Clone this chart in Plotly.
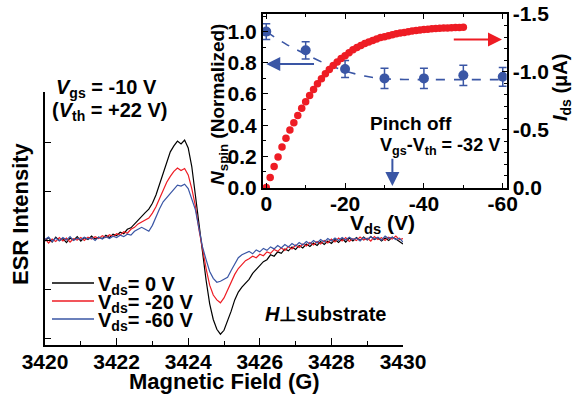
import plotly.graph_objects as go

W, H = 574, 403

# ---------------- main ESR spectra ----------------
field = [round(3420 + 0.1 * i, 1) for i in range(101)]

esr_0V = [
    -0.02, 0.05, -0.04, 0.06, -0.01, 0.03, -0.05, 0.04, 0.00, 0.07,
    -0.02, 0.05, 0.01, 0.08, 0.02, 0.06, 0.03, 0.10, 0.05, 0.12,
    0.09, 0.16, 0.13, 0.22, 0.25, 0.33, 0.42, 0.50, 0.56, 0.63,
    0.75, 0.92, 1.15, 1.38, 1.62, 1.80, 1.92, 2.02, 1.96, 2.04,
    1.88, 1.50, 0.92, 0.30, -0.28, -0.82, -1.30, -1.62, -1.82, -1.92,
    -1.84, -1.66, -1.45, -1.22, -1.06, -0.96, -0.88, -0.80, -0.68, -0.60,
    -0.52, -0.44, -0.40, -0.30, -0.33, -0.24, -0.27, -0.18, -0.22, -0.14,
    -0.19, -0.11, -0.16, -0.08, -0.13, -0.06, -0.11, -0.03, -0.09, -0.02,
    -0.07, 0.01, -0.05, 0.03, -0.04, 0.04, -0.02, 0.05, -0.01, 0.06,
    0.00, 0.07, 0.01, 0.05, -0.02, 0.04, -0.01, 0.06, 0.02, -0.04,
    -0.08,
]
esr_20V = [
    0.03, -0.06, 0.02, -0.03, 0.05, -0.02, 0.04, -0.04, 0.03, 0.00,
    0.05, -0.01, 0.06, 0.02, 0.07, 0.03, 0.09, 0.05, 0.11, 0.07,
    0.13, 0.10, 0.17, 0.14, 0.22, 0.26, 0.33, 0.37, 0.42, 0.45,
    0.55, 0.68, 0.85, 1.02, 1.18, 1.30, 1.40, 1.47, 1.42, 1.46,
    1.33, 1.05, 0.70, 0.22, -0.20, -0.58, -0.92, -1.12, -1.22, -1.28,
    -1.18, -1.02, -0.86, -0.70, -0.58, -0.50, -0.42, -0.38, -0.33, -0.36,
    -0.29, -0.32, -0.24, -0.27, -0.19, -0.23, -0.16, -0.21, -0.13, -0.18,
    -0.10, -0.15, -0.08, -0.12, -0.05, -0.10, -0.03, -0.08, -0.01, -0.06,
    0.02, -0.04, 0.04, -0.02, 0.05, -0.03, 0.03, -0.01, 0.06, 0.00,
    0.04, -0.02, 0.07, 0.01, 0.05, -0.01, 0.06, 0.02, 0.08, 0.01,
    0.03,
]
esr_60V = [
    0.01, 0.06, -0.03, 0.04, -0.02, 0.05, 0.00, 0.07, -0.01, 0.04,
    0.01, 0.06, 0.02, 0.05, -0.01, 0.06, 0.02, 0.07, 0.03, 0.08,
    0.05, 0.10, 0.07, 0.12, 0.10, 0.18, 0.22, 0.26, 0.22, 0.18,
    0.30, 0.48, 0.64, 0.78, 0.86, 0.94, 1.04, 1.12, 1.10, 1.14,
    1.05, 0.85, 0.62, 0.24, -0.14, -0.40, -0.64, -0.78, -0.86, -0.84,
    -0.80, -0.76, -0.62, -0.48, -0.36, -0.30, -0.27, -0.23, -0.28, -0.20,
    -0.24, -0.17, -0.21, -0.14, -0.18, -0.11, -0.16, -0.09, -0.14, -0.07,
    -0.12, -0.05, -0.10, -0.03, -0.08, -0.01, -0.06, 0.01, -0.04, 0.03,
    -0.02, 0.04, -0.01, 0.05, 0.00, 0.06, 0.01, 0.04, -0.02, 0.05,
    0.01, 0.07, 0.02, 0.06, 0.00, 0.08, 0.03, 0.06, 0.01, 0.04,
    -0.04,
]
field_ticks = [3420, 3422, 3424, 3426, 3428, 3430]
field_ticktext = ["3420", "3422", "3424", "3426", "3428", "3430"]

# ---------------- inset data ----------------
ids_vds = [-float(v) for v in range(0, 51)]
ids_uA = [
    0.0, -0.086, -0.181, -0.264, -0.350, -0.425, -0.497, -0.560, -0.623, -0.686,
    -0.741, -0.796, -0.847, -0.897, -0.940, -0.983, -1.020, -1.054, -1.086, -1.115,
    -1.140, -1.166, -1.190, -1.210, -1.227, -1.244, -1.258, -1.272, -1.284, -1.296,
    -1.304, -1.313, -1.321, -1.330, -1.336, -1.341, -1.347, -1.352, -1.357, -1.362,
    -1.366, -1.369, -1.372, -1.374, -1.376, -1.378, -1.380, -1.382, -1.383, -1.384,
    -1.385,
]
nspin_vds = [0, -10, -20, -30, -40, -50, -60]
nspin = [1.00, 0.88, 0.76, 0.70, 0.70, 0.72, 0.71]
nspin_err = [0.05, 0.055, 0.055, 0.065, 0.065, 0.065, 0.06]
fit_vds = [0, -5, -10, -15, -20, -25, -30, -35, -40, -50, -60]
fit_nspin = [1.0, 0.92, 0.855, 0.795, 0.748, 0.715, 0.698, 0.693, 0.692, 0.692, 0.692]
inset_xticks = [0, -20, -40, -60]
inset_xticktext = ["0", "-20", "-40", "-60"]
nspin_ticks = [0, 0.2, 0.4, 0.6, 0.8, 1.0]
nspin_ticktext = ["0.0", "0.2", "0.4", "0.6", "0.8", "1.0"]
ids_ticks = [0, -0.5, -1.0, -1.5]
ids_ticktext = ["0.0", "-0.5", "-1.0", "-1.5"]

BLACK = "#000000"
RED = "#ee1c24"
BLUE = "#3a56a5"
FONT = "Liberation Sans, Arial, sans-serif"

fig = go.Figure()
fig.add_trace(go.Scatter(x=field, y=esr_0V, mode="lines", line=dict(color=BLACK, width=1.2), xaxis="x", yaxis="y"))
fig.add_trace(go.Scatter(x=field, y=esr_20V, mode="lines", line=dict(color=RED, width=1.2), xaxis="x", yaxis="y"))
fig.add_trace(go.Scatter(x=field, y=esr_60V, mode="lines", line=dict(color=BLUE, width=1.2), xaxis="x", yaxis="y"))

fig.add_trace(go.Scatter(x=ids_vds, y=ids_uA, mode="markers", marker=dict(color=RED, size=7.5),
                         xaxis="x2", yaxis="y3"))
fig.add_trace(go.Scatter(x=fit_vds, y=fit_nspin, mode="lines", line=dict(color=BLUE, width=1.6, dash="dash", shape="spline"),
                         xaxis="x2", yaxis="y2"))
fig.add_trace(go.Scatter(x=nspin_vds, y=nspin, mode="markers", marker=dict(color=BLUE, size=10),
                         error_y=dict(type="data", array=nspin_err, color=BLUE, thickness=1.5, width=4),
                         xaxis="x2", yaxis="y2"))


def px(x, y):
    return x / W, 1 - y / H


def bold_font(size):
    return dict(family=FONT, size=size, color="black", weight="bold")


axis_common = dict(showline=True, linecolor="black", linewidth=1.6, showgrid=False, zeroline=False,
                   ticks="inside", tickcolor="black", tickwidth=1.4, automargin=False)

fig.update_layout(
    width=W, height=H, autosize=False,
    margin=dict(l=0, r=0, t=0, b=0, pad=0, autoexpand=False),
    paper_bgcolor="white", plot_bgcolor="white",
    showlegend=False,
    xaxis=dict(**axis_common, domain=[45 / W, 403 / W], range=[3420, 3430], anchor="y",
               tickmode="array", tickvals=field_ticks, ticktext=field_ticktext, ticklen=7,
               tickfont=bold_font(21), ticklabelstandoff=-3,
               minor=dict(tickmode="array", tickvals=[3421, 3423, 3425, 3427, 3429], ticks="inside", ticklen=4,
                          tickcolor="black", tickwidth=1.2)),
    yaxis=dict(**axis_common, domain=[1 - 345 / H, 1 - 92 / H], range=[-2.14, 3.02], anchor="x",
               tickmode="array", tickvals=[-2, -1, 0, 1, 2, 3], showticklabels=False, ticklen=6),
    xaxis2=dict(**axis_common, domain=[262.7 / W, 506.7 / W], range=[0.9, -61], anchor="y2", mirror="ticks",
                tickmode="array", tickvals=inset_xticks, ticktext=inset_xticktext, ticklen=5,
                tickfont=bold_font(21), ticklabelstandoff=-4,
                minor=dict(tickmode="array", tickvals=[-10, -30, -50], ticks="inside", ticklen=3,
                           tickcolor="black", tickwidth=1.2)),
    yaxis2=dict(**axis_common, domain=[1 - 188 / H, 1 - 14 / H], range=[-0.003, 1.113], anchor="x2",
                tickmode="array", tickvals=nspin_ticks, ticktext=nspin_ticktext, ticklen=5,
                tickfont=bold_font(21),
                minor=dict(tickmode="array", tickvals=[0.1, 0.3, 0.5, 0.7, 0.9, 1.1], ticks="inside", ticklen=3,
                           tickcolor="black", tickwidth=1.2)),
    yaxis3=dict(**axis_common, domain=[1 - 188 / H, 1 - 14 / H], range=[0.004, -1.5], anchor="x2",
                overlaying="y2", side="right",
                tickmode="array", tickvals=ids_ticks, ticktext=ids_ticktext, ticklen=5,
                tickfont=bold_font(21),
                minor=dict(tickmode="array",
                           tickvals=[-0.1, -0.2, -0.3, -0.4, -0.6, -0.7, -0.8, -0.9, -1.1, -1.2, -1.3, -1.4],
                           ticks="inside", ticklen=3, tickcolor="black", tickwidth=1.2)),
)

ann = []


def text(x, y, s, size, angle=0, xanchor="center"):
    X, Y = px(x, y)
    ann.append(dict(x=X, y=Y, xref="paper", yref="paper", text=s, showarrow=False, textangle=angle,
                    xanchor=xanchor, yanchor="middle", font=bold_font(size)))


text(224, 381, "Magnetic Field (G)", 22)
text(20, 214, "ESR Intensity", 22, angle=-90)
text(106, 89, "<i>V</i><sub>gs</sub> = -10 V", 20)
text(110, 112, "(<i>V</i><sub>th</sub> = +22 V)", 20)
text(325, 314, "<i>H</i>⊥substrate", 20)
text(219, 104, "<i>N</i><sub>spin</sub> (Normalized)", 19, angle=-90)
text(561, 88, "<i>I</i><sub>ds</sub> (μA)", 20, angle=-90)
text(382, 224, "V<sub>ds</sub> (V)", 21)
text(411, 123, "Pinch off", 19)
text(440, 146, "V<sub>gs</sub>-V<sub>th</sub> = -32 V", 18)

# legend (manual)
leg_rows = [(283, BLACK, "V<sub>ds</sub>= 0 V"), (301, RED, "V<sub>ds</sub>= -20 V"), (319, BLUE, "V<sub>ds</sub>= -60 V")]
shapes = []
for yy, col, lab in leg_rows:
    x0, y0 = px(52, yy)
    x1, _ = px(94, yy)
    shapes.append(dict(type="line", xref="paper", yref="paper", x0=x0, x1=x1, y0=y0, y1=y0,
                       line=dict(color=col, width=1.3)))
    text(96, yy + 2, lab, 20, xanchor="left")

# arrows in inset
ann.append(dict(x=0.0, y=0.793, ax=-12.5, ay=0.793, xref="x2", yref="y2", axref="x2", ayref="y2",
                showarrow=True, arrowhead=2, arrowsize=1.4, arrowwidth=2, arrowcolor=BLUE, text=""))
ann.append(dict(x=-59.8, y=-1.28, ax=-47.2, ay=-1.28, xref="x2", yref="y3", axref="x2", ayref="y3",
                showarrow=True, arrowhead=2, arrowsize=1.4, arrowwidth=2, arrowcolor=RED, text=""))
ann.append(dict(x=-32, y=0.01, ax=-32, ay=0.194, xref="x2", yref="y2", axref="x2", ayref="y2",
                showarrow=True, arrowhead=2, arrowsize=1.4, arrowwidth=2, arrowcolor=BLUE, text=""))

fig.update_layout(annotations=ann, shapes=shapes)
fig.write_html("out.html", config={"displayModeBar": False},
               post_script="document.body.style.margin='0px';")
